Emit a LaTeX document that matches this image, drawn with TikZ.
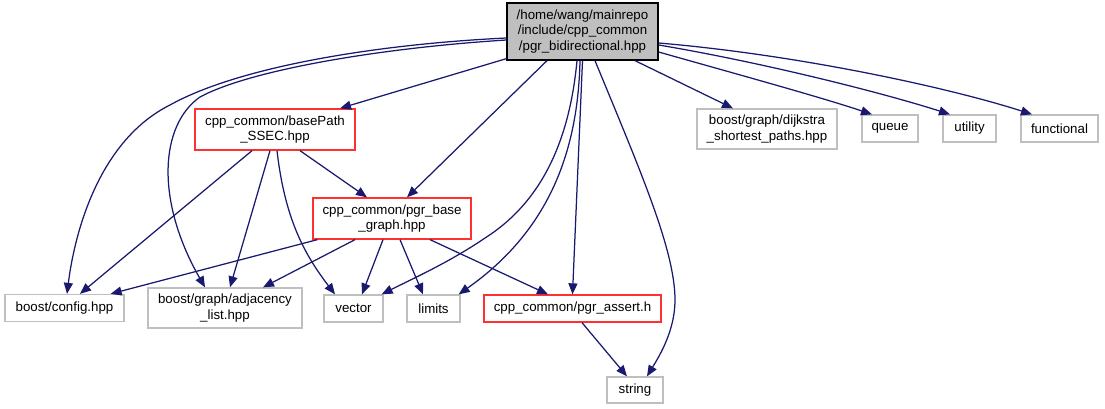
\documentclass[tikz,border=0pt]{standalone}
\usepackage{fontspec}
\setmainfont{Liberation Sans}
\usetikzlibrary{arrows.meta}
\definecolor{edgeblue}{HTML}{191970}
\definecolor{boxgrey}{HTML}{BFBFBF}
\definecolor{boxred}{HTML}{FF3030}
\tikzset{
  box/.style={rectangle, inner sep=0pt, align=center, line width=1.3pt,
    font=\fontsize{13.3}{15.5}\selectfont, fill=white},
  rootbox/.style={box, draw=black, fill=boxgrey},
  redbox/.style={box, draw=boxred},
  greybox/.style={box, draw=boxgrey},
  dep/.style={draw=edgeblue, line width=1.25pt, -{Triangle[length=11pt,width=9pt]}},
}
\begin{document}
\begin{tikzpicture}[x=1pt,y=-1pt]
\useasboundingbox (0,0) rectangle (1105,409);
\node[rootbox, minimum width=151pt, minimum height=57pt] (root) at (582.5,31.5) {/home/wang/mainrepo\\/include/cpp\_common\\/pgr\_bidirectional.hpp};
\node[redbox, minimum width=160pt, minimum height=41pt] (base) at (275,129.5) {cpp\_common/basePath\\\_SSEC.hpp};
\node[redbox, minimum width=158pt, minimum height=41pt] (pbg) at (392,218.5) {cpp\_common/pgr\_base\\\_graph.hpp};
\node[greybox, minimum width=119pt, minimum height=27pt] (config) at (64.5,308) {boost/config.hpp};
\node[greybox, minimum width=154pt, minimum height=40pt] (adj) at (225,308) {boost/graph/adjacency\\\_list.hpp};
\node[greybox, minimum width=59pt, minimum height=27pt] (vector) at (353.5,308.5) {vector};
\node[greybox, minimum width=53pt, minimum height=27pt] (limits) at (433.5,308.5) {limits};
\node[redbox, minimum width=177pt, minimum height=27pt] (assert) at (572.5,308.5) {cpp\_common/pgr\_assert.h};
\node[greybox, minimum width=56pt, minimum height=26pt] (string) at (635,390) {string};
\node[greybox, minimum width=140pt, minimum height=40pt] (dijk) at (767,129) {boost/graph/dijkstra\\\_shortest\_paths.hpp};
\node[greybox, minimum width=56pt, minimum height=27pt] (queue) at (890,128.5) {queue};
\node[greybox, minimum width=53pt, minimum height=27pt] (utility) at (969.5,128.5) {utility};
\node[greybox, minimum width=77pt, minimum height=27pt] (functional) at (1059.5,128.5) {functional};

% root edges
\draw[dep] ([yshift=2pt]root.south west) -- ([xshift=65pt]base.north);
\draw[dep] ([yshift=-6.5pt]root.west) .. controls (380,44) and (240,66) .. (170,105)
  .. controls (100,140) and (75,230) .. ([xshift=2.5pt]config.north);
\draw[dep] ([yshift=-8.5pt]root.west) .. controls (380,48) and (250,70) .. (200,97)
  .. controls (160,125) and (155,200) .. ([xshift=-20pt]adj.north);
\draw[dep] ([xshift=-35.5pt]root.south) -- ([xshift=15pt]pbg.north);
\draw[dep] ([xshift=-5.5pt]root.south) .. controls (570,135) and (545,200) .. (485,238)
  .. controls (450,262) and (410,280) .. ([xshift=-2pt]vector.north east);
\draw[dep] ([xshift=-2.5pt]root.south) .. controls (578,150) and (550,230) .. ([xshift=-2pt]limits.north east);
\draw[dep] ([xshift=0pt]root.south) -- (assert.north);
\draw[dep] ([xshift=12.5pt]root.south) .. controls (640,170) and (675,250) .. (675,300)
  .. controls (675,330) and (660,355) .. ([xshift=12pt]string.north);
\draw[dep] ([xshift=52.5pt]root.south) -- ([xshift=-34pt]dijk.north);
\draw[dep] ([yshift=-20.5pt]root.east) .. controls (740,75) and (820,97) .. ([xshift=-18pt]queue.north);
\draw[dep] ([yshift=-13.5pt]root.east) .. controls (760,62) and (880,92) .. ([xshift=-19.5pt]utility.north);
\draw[dep] ([yshift=-11.5pt]root.east) .. controls (800,55) and (950,88) .. ([xshift=-27.5pt]functional.north);

% basePath edges
\draw[dep] ([xshift=-23pt]base.south) -- ([xshift=15.5pt]config.north);
\draw[dep] ([xshift=-5pt]base.south) -- ([xshift=5pt]adj.north);
\draw[dep] ([xshift=2pt]base.south) .. controls (285,220) and (305,255) .. ([xshift=-18.5pt]vector.north);
\draw[dep] ([xshift=25pt]base.south) -- ([xshift=-25pt]pbg.north);

% pgr_base_graph edges
\draw[dep] ([xshift=5pt]pbg.south west) -- ([xshift=-14pt]config.north east);
\draw[dep] ([xshift=-37pt]pbg.south) -- ([xshift=38pt]adj.north);
\draw[dep] ([xshift=-9pt]pbg.south) -- ([xshift=8.5pt]vector.north);
\draw[dep] ([xshift=8pt]pbg.south) -- ([xshift=-10.5pt]limits.north);
\draw[dep] ([xshift=38pt]pbg.south) -- ([xshift=-24.5pt]assert.north);

% pgr_assert edge
\draw[dep] ([xshift=9.5pt]assert.south) -- ([xshift=-8pt]string.north);
\end{tikzpicture}
\end{document}
